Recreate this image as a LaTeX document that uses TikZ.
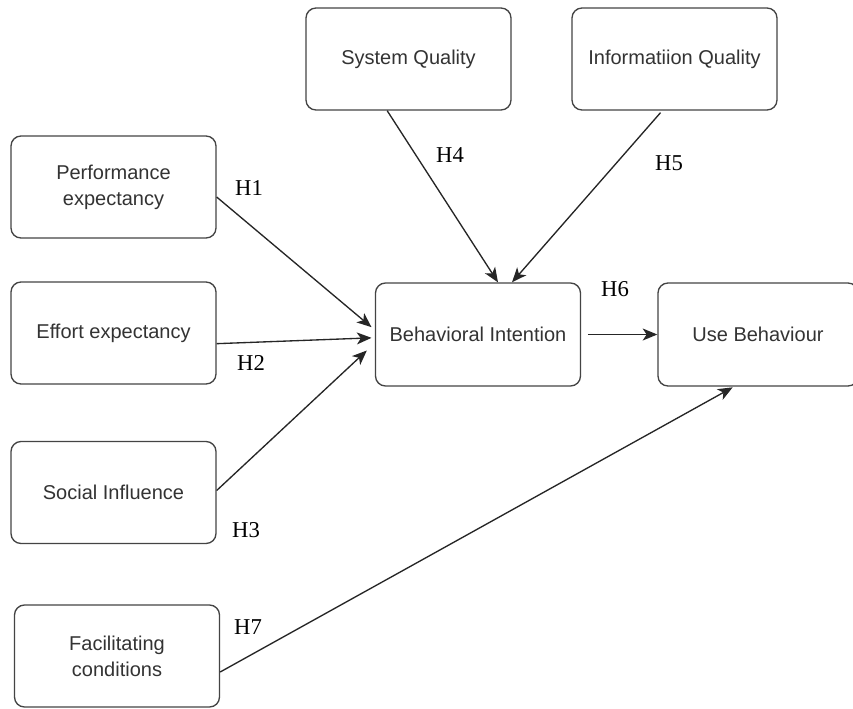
\documentclass[tikz,border=0pt]{standalone}
\usepackage{fontspec}
\setmainfont{Liberation Serif}
\setsansfont{Liberation Sans}
\usetikzlibrary{arrows.meta}
\definecolor{boxline}{HTML}{444444}
\definecolor{boxtext}{HTML}{333333}

\begin{document}
\begin{tikzpicture}[x=0.75pt, y=-0.75pt,
  construct/.style={draw=boxline, line width=1pt, rounded corners=7.5pt, fill=white,
    minimum width=153.75pt, minimum height=76.5pt, align=center, text=boxtext,
    font=\sffamily\fontsize{15}{19.5}\selectfont},
  hyp/.style={font=\rmfamily\fontsize{17}{20}\selectfont},
  path/.style={draw=black!85, line width=1pt, -{Stealth[length=11pt, width=9pt, inset=3pt]}}]
\clip (0,0) rectangle (853,708);
\fill[white] (0,0) rectangle (853,708);

% Predictors
\node[construct] (perf) at (113.5,187) {Performance\\expectancy};
\node[construct] (effort) at (113.5,333) {Effort expectancy};
\node[construct] (social) at (113.5,492.5) {Social Influence};
\node[construct] (facil) at (117,656) {Facilitating\\conditions};

% Quality constructs
\node[construct] (sysq) at (408.5,59) {System Quality};
\node[construct] (infoq) at (674.5,59) {Informatiion Quality};

% Outcomes
\node[construct, minimum height=77.25pt] (intent) at (478,334.5) {Behavioral Intention};
\node[construct, minimum width=150pt, minimum height=77.25pt] (usebeh) at (758,334.5) {Use Behaviour};

% Hypotheses
\draw[path] ([yshift=-7.5pt]perf.east) -- ([xshift=-2.5pt, yshift=5.5pt]intent.west);
\node[hyp] (h1) at (249,188) {H1};
\draw[path] ([yshift=-8pt]effort.east) -- ([xshift=-2.5pt, yshift=-2.5pt]intent.west);
\node[hyp] (h2) at (251,363) {H2};
\draw[path] ([yshift=1.5pt]social.east) -- ([xshift=-6pt, yshift=-12pt]intent.west);
\node[hyp] (h3) at (246,530) {H3};
\draw[path] ([xshift=-16pt]sysq.south) -- ([xshift=15pt]intent.north);
\node[hyp] (h4) at (450,155) {H4};
\draw[path] ([xshift=-10.5pt, yshift=-1.5pt]infoq.south) -- ([xshift=25.5pt]intent.north);
\node[hyp] (h5) at (669,163) {H5};
\draw[path] ([xshift=5pt]intent.east) -- (usebeh.west);
\node[hyp] (h6) at (615,289) {H6};
\draw[path] ([yshift=-12pt]facil.east) -- ([xshift=-19pt, yshift=-0.5pt]usebeh.south);
\node[hyp] (h7) at (248,627) {H7};
\end{tikzpicture}
\end{document}
